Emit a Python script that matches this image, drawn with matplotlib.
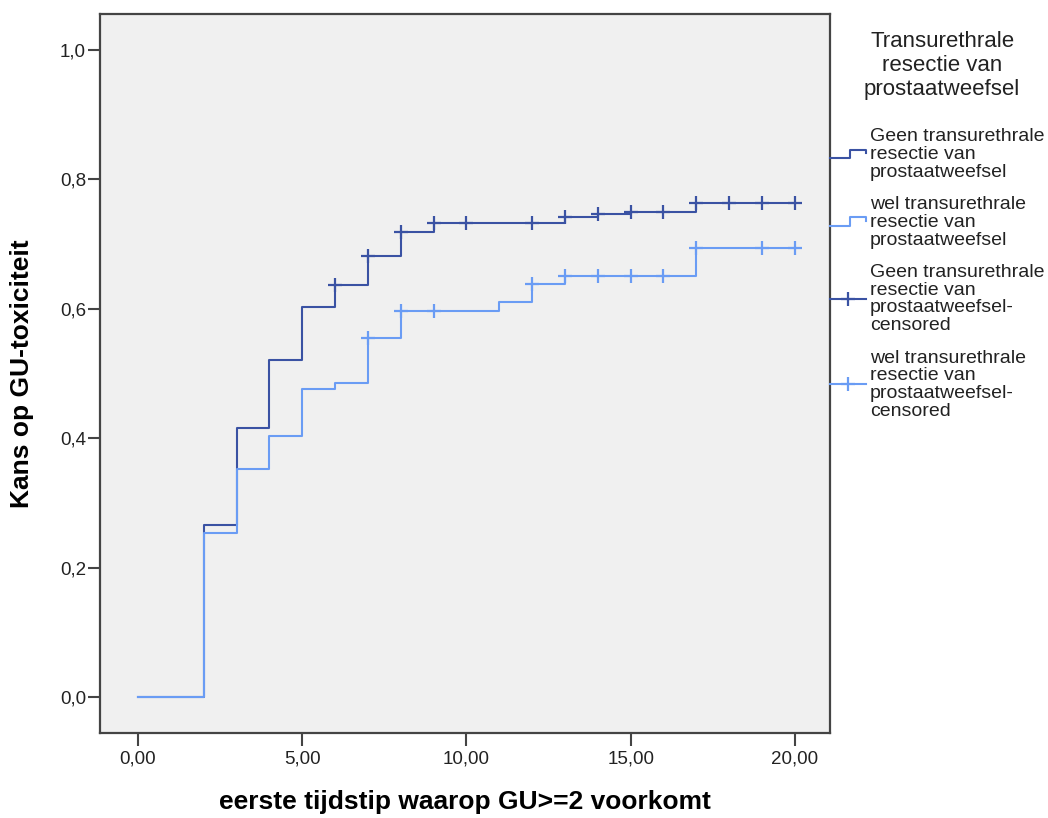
import numpy as np
import matplotlib
matplotlib.use("Agg")
import matplotlib.pyplot as plt
from matplotlib.lines import Line2D
from matplotlib.legend_handler import HandlerBase
from matplotlib.ticker import FuncFormatter

plt.rcParams["font.family"] = ["Liberation Sans", "DejaVu Sans"]

# Kaplan-Meier style step data (time, cumulative probability)
geen_t = [0, 2, 3, 4, 5, 6, 7, 8, 9, 13, 14, 15, 17, 20]
geen_p = [0, 0.265, 0.416, 0.521, 0.602, 0.636, 0.681, 0.719, 0.733, 0.742, 0.746, 0.750, 0.764, 0.764]
geen_cens = [6, 7, 8, 9, 10, 12, 13, 14, 15, 16, 17, 18, 19, 20]

wel_t = [0, 2, 3, 4, 5, 6, 7, 8, 11, 12, 13, 17, 20]
wel_p = [0, 0.253, 0.353, 0.404, 0.476, 0.485, 0.555, 0.597, 0.611, 0.638, 0.651, 0.694, 0.694]
wel_cens = [7, 8, 9, 12, 13, 14, 15, 16, 17, 19, 20]

labels = ["Geen transurethrale\nresectie van\nprostaatweefsel",
          "wel transurethrale\nresectie van\nprostaatweefsel",
          "Geen transurethrale\nresectie van\nprostaatweefsel-\ncensored",
          "wel transurethrale\nresectie van\nprostaatweefsel-\ncensored"]

dark = "#3a52a3"
light = "#6a9cf4"


def step_value(ts, ps, x):
    idx = np.searchsorted(ts, x, side="right") - 1
    return np.array(ps)[idx]


class StepHandler(HandlerBase):
    def create_artists(self, legend, orig_handle, xdescent, ydescent,
                       width, height, fontsize, trans):
        x0 = -xdescent
        lo = -ydescent + height * 0.25
        hi = -ydescent + height * 0.85
        xs = [x0, x0 + 0.55 * width, x0 + 0.55 * width, x0 + width, x0 + width]
        ys = [lo, lo, hi, hi, hi - 0.45 * (hi - lo)]
        ln = Line2D(xs, ys, color=orig_handle.get_color(),
                    lw=orig_handle.get_linewidth())
        ln.set_transform(trans)
        return [ln]


fig = plt.figure(figsize=(10.48, 8.18), dpi=100)
ax = fig.add_axes([0.0954, 0.104, 0.6966, 0.879])
ax.set_facecolor("#f0f0f0")

l1, = ax.plot(geen_t, geen_p, drawstyle="steps-post", color=dark, lw=1.5)
l2, = ax.plot(wel_t, wel_p, drawstyle="steps-post", color=light, lw=1.5)
ax.plot(geen_cens, step_value(geen_t, geen_p, geen_cens), "+", color=dark,
        ms=10, mew=1.6)
ax.plot(wel_cens, step_value(wel_t, wel_p, wel_cens), "+", color=light,
        ms=10, mew=1.6)

ax.set_xlim(-1.157, 21.07)
ax.set_ylim(-0.0556, 1.0556)
ax.set_xticks([0, 5, 10, 15, 20])
ax.set_yticks([0, 0.2, 0.4, 0.6, 0.8, 1.0])
ax.xaxis.set_major_formatter(FuncFormatter(lambda v, p: f"{v:.2f}".replace(".", ",")))
ax.yaxis.set_major_formatter(FuncFormatter(lambda v, p: f"{v:.1f}".replace(".", ",")))
ax.tick_params(axis="both", direction="out", length=9, width=1.5,
               color="#444444", labelsize=13.5, labelcolor="#222222")
ax.tick_params(axis="x", pad=4)
ax.tick_params(axis="y", pad=1)
for sp in ax.spines.values():
    sp.set_color("#444444")
    sp.set_linewidth(1.6)

ax.set_xlabel("eerste tijdstip waarop GU>=2 voorkomt", fontsize=19,
              fontweight="bold", labelpad=16)
ax.set_ylabel("Kans op GU-toxiciteit", fontsize=19, fontweight="bold",
              labelpad=19)

# legend
fig.text(0.899, 0.962, "Transurethrale\nresectie van\nprostaatweefsel",
         ha="center", va="top", fontsize=16, color="#222222", linespacing=1.2)

h3 = Line2D([], [], color=dark, lw=1.5, marker="+", ms=10, mew=1.6)
h4 = Line2D([], [], color=light, lw=1.5, marker="+", ms=10, mew=1.6)
leg = fig.legend([l1, l2, h3, h4], labels, loc="upper left",
                 bbox_to_anchor=(0.792, 0.843), frameon=False, borderpad=0,
                 borderaxespad=0, handlelength=1.85, handletextpad=0.2,
                 labelspacing=0.8, numpoints=1, fontsize=14,
                 handler_map={l1: StepHandler(), l2: StepHandler()})
for t in leg.get_texts():
    t.set_linespacing(1.05)
    t.set_color("#222222")

fig.savefig("out.png", dpi=100)
